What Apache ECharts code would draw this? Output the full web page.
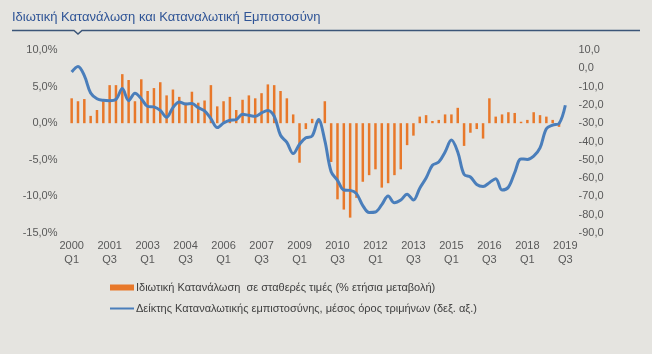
<!DOCTYPE html>
<html>
<head>
<meta charset="utf-8">
<script src="https://cdn.jsdelivr.net/npm/echarts@6/dist/echarts.min.js"></script>
<style>
html,body{margin:0;padding:0;background:#e5e4e0;}
#c{width:652px;height:354px;}
</style>
</head>
<body>
<div id="c"></div>
<script>
// Quarters 2000Q1 .. 2019Q3
const years = [2000,2001,2002,2003,2004,2005,2006,2007,2008,2009,2010,2011,2012,2013,2014,2015,2016,2017,2018,2019];
const quarterNames = ['Q1','Q2','Q3','Q4'];
const categories = [];
years.forEach(y => quarterNames.forEach(q => { if (!(y === 2019 && q === 'Q4')) categories.push(y + '\n' + q); }));

// Private consumption, constant prices, % y/y (left axis)
const consumption = [
  3.4, 3.0, 3.3, 1.0, 1.8, 3.0, 5.2, 5.2, 6.7, 5.9,
  3.0, 6.0, 4.4, 4.8, 5.6, 3.8, 4.6, 3.6, 2.8, 4.3,
  2.8, 3.1, 5.2, 2.3, 3.0, 3.6, 1.8, 3.2, 3.8, 3.4,
  4.1, 5.3, 5.2, 4.4, 3.4, 1.2, -5.4, -0.8, 0.6, 0.3,
  3.0, -5.3, -10.4, -11.8, -12.9, -10.2, -8.0, -7.1, -6.3, -8.8,
  -8.2, -7.1, -6.3, -3.0, -1.7, 0.9, 1.1, 0.3, 0.45, 1.2,
  1.2, 2.1, -3.1, -1.3, -0.8, -2.1, 3.4, 0.9, 1.2, 1.5,
  1.4, 0.2, 0.45, 1.5, 1.1, 0.9, 0.45, -0.5, null
];

// Consumer confidence index, 3-month average (right axis)
const confidence = [
  -2.0, 1.0, -4.0, -13.5, -16.6, -17.5, -17.7, -17.0, -11.1, -17.7,
  -13.6, -16.6, -20.8, -21.1, -23.0, -26.8, -21.5, -18.4, -19.5, -19.3,
  -21.5, -23.3, -27.5, -32.4, -29.9, -28.4, -28.0, -25.1, -25.7, -26.2,
  -24.4, -23.0, -26.2, -36.6, -40.5, -46.6, -41.5, -38.0, -37.0, -28.0,
  -39.5, -56.5, -61.2, -66.5, -66.7, -68.5, -75.0, -78.8, -78.5, -74.5,
  -69.8, -73.5, -72.0, -68.8, -72.0, -65.5, -60.0, -53.0, -51.2, -45.7,
  -39.2, -45.7, -58.0, -59.4, -63.5, -64.6, -62.5, -60.3, -66.5, -65.0,
  -57.0, -49.5, -49.8, -48.0, -43.5, -33.0, -31.0, -30.2, -20.2
];

const titleText = 'Ιδιωτική Κατανάλωση και Καταναλωτική Εμπιστοσύνη';
const barName = 'Ιδιωτική Κατανάλωση  σε σταθερές τιμές (% ετήσια μεταβολή)';
const lineName = 'Δείκτης Καταναλωτικής εμπιστοσύνης, μέσος όρος τριμήνων (δεξ. αξ.)';

const font = 'Arial, "Liberation Sans", sans-serif';
const chart = echarts.init(document.getElementById('c'));
chart.setOption({
  backgroundColor: '#e5e4e0',
  animation: false,
  title: {
    text: titleText, left: 7, top: 6,
    textStyle: { fontFamily: font, fontSize: 13, fontWeight: 'normal', color: '#2f5496' }
  },
  graphic: [{
    type: 'polyline', silent: true,
    shape: { points: [[12, 30.5], [74, 30.5], [78, 34], [82, 30.5], [640, 30.5]] },
    style: { stroke: '#3b5578', lineWidth: 1.5, fill: null }
  }],
  grid: { left: 68.5, width: 500, top: 50, height: 183 },
  legend: {
    orient: 'vertical', left: 104, top: 277, itemWidth: 24, itemHeight: 6, itemGap: 10,
    textStyle: { fontFamily: font, fontSize: 11, color: '#404040', padding: [0, 0, 0, -3] },
    data: [
      { name: barName, icon: 'rect' },
      { name: lineName, itemStyle: { opacity: 0 } }
    ]
  },
  xAxis: {
    type: 'category', data: categories, boundaryGap: true,
    axisLine: { show: false }, axisTick: { show: false },
    axisLabel: {
      interval: 5, margin: 6, fontFamily: font, fontSize: 11, color: '#595959', lineHeight: 14
    }
  },
  yAxis: [{
    type: 'value', min: -15, max: 10, interval: 5, position: 'left',
    splitLine: { show: false }, axisLine: { show: false }, axisTick: { show: false },
    axisLabel: { margin: 11, fontFamily: font, fontSize: 11, color: '#595959',
      formatter: v => v.toFixed(1).replace('.', ',') + '%' }
  }, {
    type: 'value', min: -90, max: 10, interval: 10, position: 'right',
    splitLine: { show: false }, axisLine: { show: false }, axisTick: { show: false },
    axisLabel: { margin: 10, fontFamily: font, fontSize: 11, color: '#595959',
      formatter: v => v.toFixed(1).replace('.', ',') }
  }],
  series: [{
    name: barName, type: 'bar', yAxisIndex: 0, data: consumption,
    barWidth: 2.5, itemStyle: { color: '#e8782a' }
  }, {
    name: lineName, type: 'line', yAxisIndex: 1, data: confidence,
    smooth: 0.35, symbol: 'none', lineStyle: { color: '#4a7ebb', width: 3 },
    itemStyle: { color: '#4a7ebb' }, z: 3
  }]
});
</script>
</body>
</html>
